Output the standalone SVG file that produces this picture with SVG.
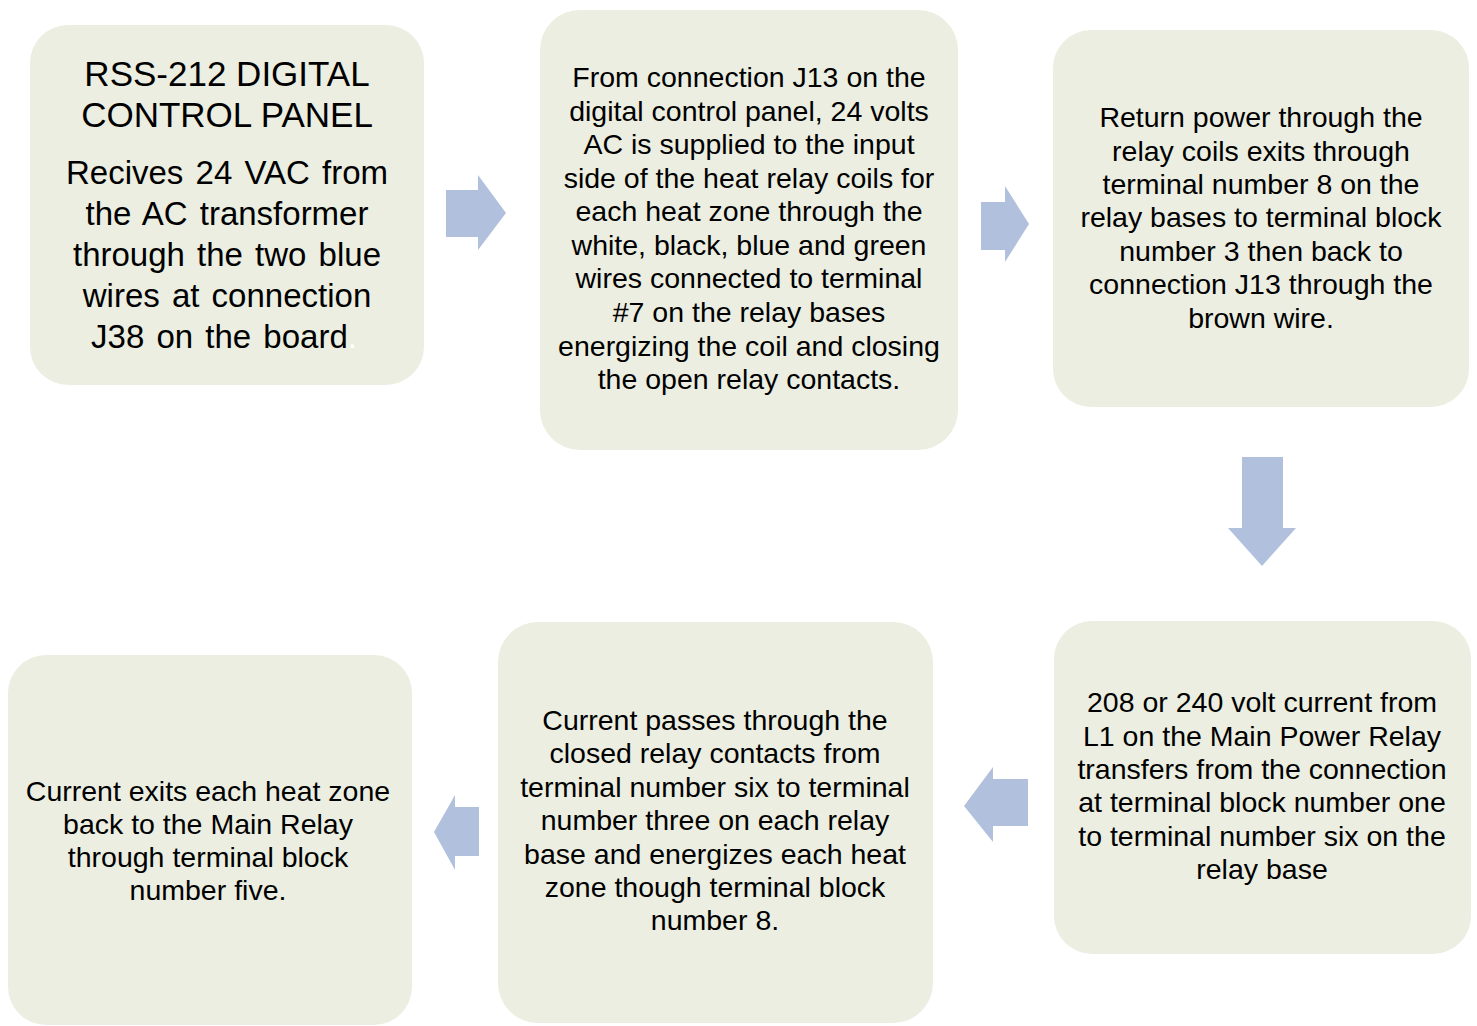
<svg xmlns="http://www.w3.org/2000/svg" width="1477" height="1026" viewBox="0 0 1477 1026">
<style>
.box{fill:#ebeee0;}
.arr{fill:#b1c1dd;}
text{font-family:"Liberation Sans",Arial,sans-serif;fill:#000;text-anchor:middle;}
.t{font-size:28.5px;}
.h{font-size:35px;}
.b1{font-size:33px;word-spacing:3px;}
</style>
<rect width="1477" height="1026" fill="#ffffff"/>
<g id="connectors">
<polygon class="arr" points="446,190 478,190 478,175 506,213 478,250 478,237 446,237"/>
<polygon class="arr" points="981,202 1005,202 1005,186 1029,224 1005,262 1005,250 981,250"/>
<polygon class="arr" points="1242,457 1283,457 1283,528 1296,528 1262,566 1228,528 1242,528"/>
<polygon class="arr" points="1028,779 993,779 993,767 964,806 993,842 993,826 1028,826"/>
<polygon class="arr" points="479,807 455,807 455,795 434,832 455,870 455,856 479,856"/>
</g>
<g id="node1">
<rect class="box" x="30" y="25" width="394" height="360" rx="38"/>
<text class="h" x="227" y="86">RSS-212 DIGITAL</text>
<text class="h" x="227" y="127">CONTROL PANEL</text>
<text class="b1" x="227" y="184">Recives 24 VAC from</text>
<text class="b1" x="227" y="225">the AC transformer</text>
<text class="b1" x="227" y="266">through the two blue</text>
<text class="b1" x="227" y="307">wires at connection</text>
<text class="b1" x="224" y="348">J38 on the board<tspan fill="#ffffff">.</tspan></text>
</g>
<g id="node2">
<rect class="box" x="540" y="10" width="418" height="440" rx="40"/>
<text class="t" x="749" y="87">From connection J13 on the</text>
<text class="t" x="749" y="121">digital control panel, 24 volts</text>
<text class="t" x="749" y="154">AC is supplied to the input</text>
<text class="t" x="749" y="188">side of the heat relay coils for</text>
<text class="t" x="749" y="221">each heat zone through the</text>
<text class="t" x="749" y="255">white, black, blue and green</text>
<text class="t" x="749" y="288">wires connected to terminal</text>
<text class="t" x="749" y="322">#7 on the relay bases</text>
<text class="t" x="749" y="356">energizing the coil and closing</text>
<text class="t" x="749" y="389">the open relay contacts.</text>
</g>
<g id="node3">
<rect class="box" x="1053" y="30" width="416" height="377" rx="38"/>
<text class="t" x="1261" y="127">Return power through the</text>
<text class="t" x="1261" y="161">relay coils exits through</text>
<text class="t" x="1261" y="194">terminal number 8 on the</text>
<text class="t" x="1261" y="227">relay bases to terminal block</text>
<text class="t" x="1261" y="261">number 3 then back to</text>
<text class="t" x="1261" y="294">connection J13 through the</text>
<text class="t" x="1261" y="328">brown wire.</text>
</g>
<g id="node4">
<rect class="box" x="1054" y="621" width="417" height="333" rx="38"/>
<text class="t" x="1262" y="712">208 or 240 volt current from</text>
<text class="t" x="1262" y="746">L1 on the Main Power Relay</text>
<text class="t" x="1262" y="779">transfers from the connection</text>
<text class="t" x="1262" y="812">at terminal block number one</text>
<text class="t" x="1262" y="846">to terminal number six on the</text>
<text class="t" x="1262" y="879">relay base</text>
</g>
<g id="node5">
<rect class="box" x="498" y="622" width="435" height="401" rx="40"/>
<text class="t" x="715" y="730">Current passes through the</text>
<text class="t" x="715" y="763">closed relay contacts from</text>
<text class="t" x="715" y="797">terminal number six to terminal</text>
<text class="t" x="715" y="830">number three on each relay</text>
<text class="t" x="715" y="864">base and energizes each heat</text>
<text class="t" x="715" y="897">zone though terminal block</text>
<text class="t" x="715" y="930">number 8.</text>
</g>
<g id="node6">
<rect class="box" x="8" y="655" width="404" height="370" rx="38"/>
<text class="t" x="208" y="801">Current exits each heat zone</text>
<text class="t" x="208" y="834">back to the Main Relay</text>
<text class="t" x="208" y="867">through terminal block</text>
<text class="t" x="208" y="900">number five.</text>
</g>
</svg>
